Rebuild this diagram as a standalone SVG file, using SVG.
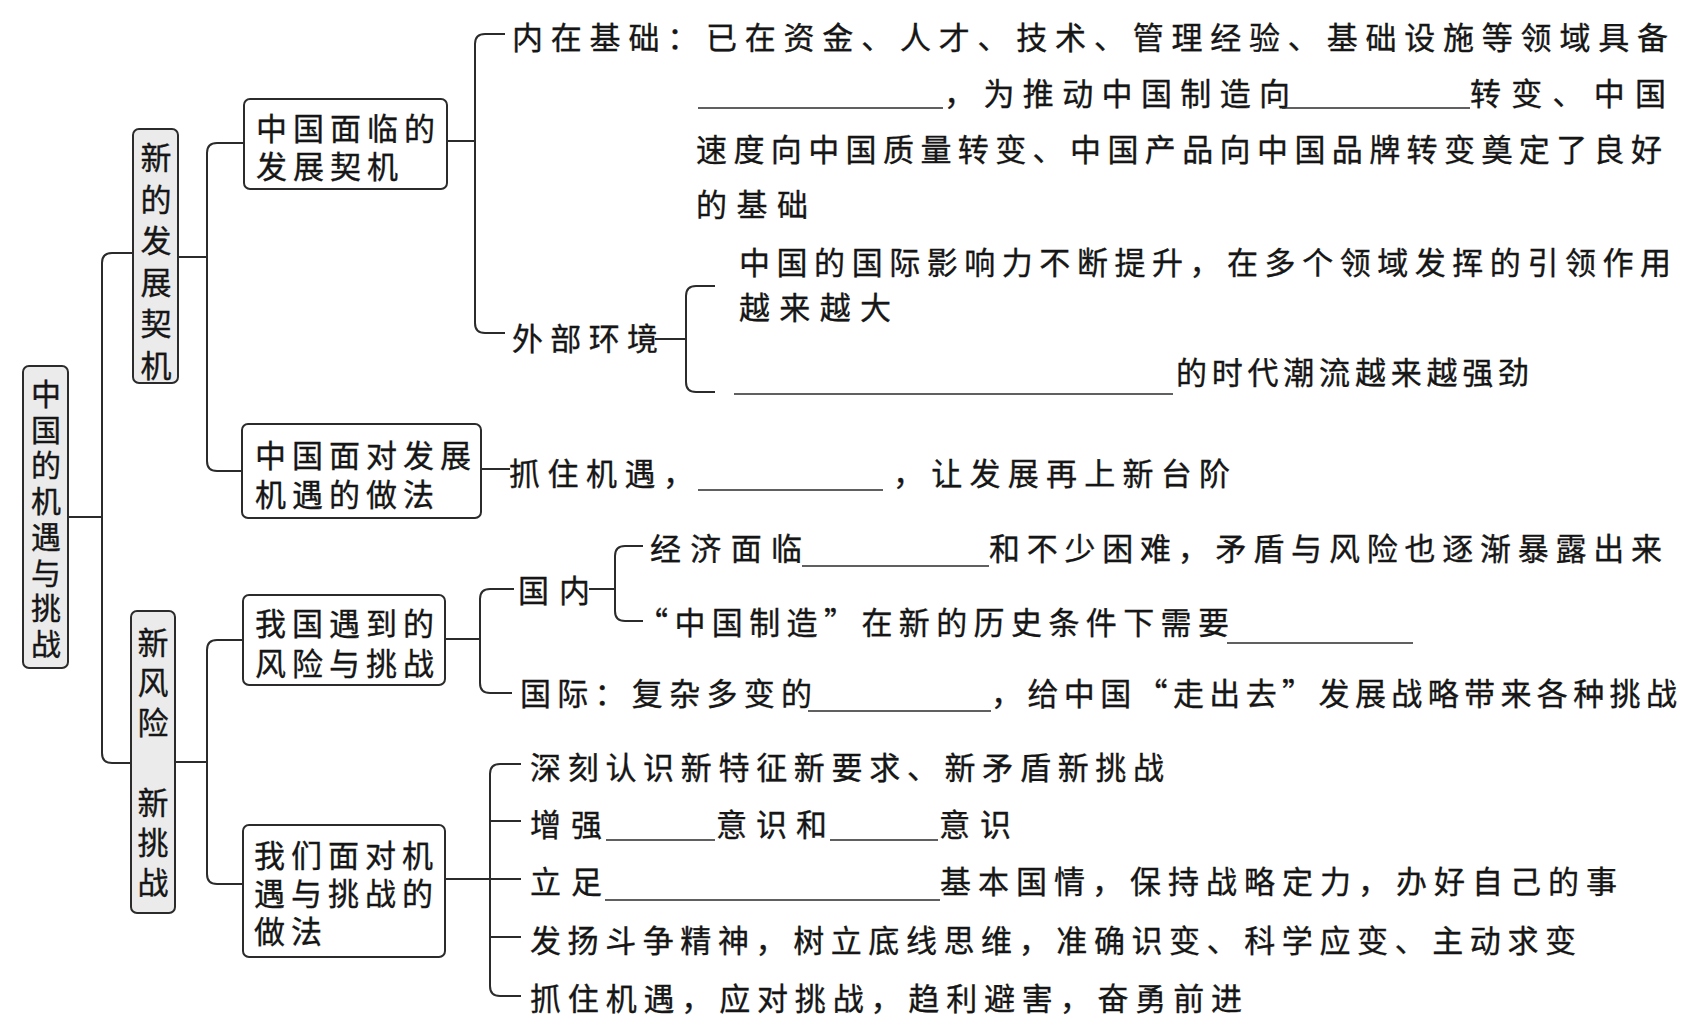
<svg xmlns="http://www.w3.org/2000/svg" width="1685" height="1028" viewBox="0 0 1685 1028">
<style>
  .bg{fill:#ffffff}
  .box{fill:#ffffff;stroke:#2b2b2b;stroke-width:2}
  .vbox{fill:#ebebeb;stroke:#2b2b2b;stroke-width:2}
  .ln{fill:none;stroke:#2b2b2b;stroke-width:2}
  .ul{fill:none;stroke:#2b2b2b;stroke-width:1.6}
  text{font-family:"Noto Sans CJK SC","Noto Sans",sans-serif;fill:#161616;stroke:#161616;stroke-width:0.35px}
  .bt{font-size:31px;letter-spacing:6px}
  .vt{font-size:30px;text-anchor:middle}
  .rt{font-size:31px}
</style>
<rect class="bg" x="0" y="0" width="1685" height="1028"/>

<g id="connectors">
  <path class="ln" d="M68,517 H102"/>
  <path class="ln" d="M133,253 H112 Q102,253 102,263 V753 Q102,763 112,763 H131"/>
  <path class="ln" d="M178,257 H207"/>
  <path class="ln" d="M244,143 H217 Q207,143 207,153 V461 Q207,471 217,471 H242"/>
  <path class="ln" d="M175,762 H207"/>
  <path class="ln" d="M243,640 H217 Q207,640 207,650 V874 Q207,884 217,884 H243"/>
  <path class="ln" d="M447,141 H475"/>
  <path class="ln" d="M505,34 H485 Q475,34 475,44 V323 Q475,333 485,333 H505"/>
  <path class="ln" d="M655,339 H686"/>
  <path class="ln" d="M715,286 H696 Q686,286 686,296 V382 Q686,392 696,392 H715"/>
  <path class="ln" d="M481,469 H510"/>
  <path class="ln" d="M445,639 H480"/>
  <path class="ln" d="M514,589 H490 Q480,589 480,599 V683 Q480,693 490,693 H512"/>
  <path class="ln" d="M589,589 H615"/>
  <path class="ln" d="M643,546 H625 Q615,546 615,556 V611 Q615,621 625,621 H643"/>
  <path class="ln" d="M445,879 H490"/>
  <path class="ln" d="M521,764 H500 Q490,764 490,774 V986 Q490,996 500,996 H521"/>
  <path class="ln" d="M490,821 H521"/>
  <path class="ln" d="M490,937 H521"/>
  <path class="ln" d="M490,879 H521"/>
</g>

<g id="root">
  <rect class="vbox" x="23" y="366" width="45" height="302" rx="6"/>
  <text class="vt"><tspan x="46" y="405">中</tspan><tspan x="46" y="440.7">国</tspan><tspan x="46" y="476.4">的</tspan><tspan x="46" y="512.1">机</tspan><tspan x="46" y="547.8">遇</tspan><tspan x="46" y="583.5">与</tspan><tspan x="46" y="619.2">挑</tspan><tspan x="46" y="654.9">战</tspan></text>
</g>

<g id="new-opportunity">
  <rect class="vbox" x="133" y="129" width="45" height="254" rx="6"/>
  <text class="vt" style="font-size:31px"><tspan x="156" y="169">新</tspan><tspan x="156" y="210.6">的</tspan><tspan x="156" y="252.2">发</tspan><tspan x="156" y="293.8">展</tspan><tspan x="156" y="335.4">契</tspan><tspan x="156" y="377">机</tspan></text>
</g>

<g id="new-risk">
  <rect class="vbox" x="131" y="611" width="44" height="302" rx="6"/>
  <text class="vt" style="font-size:31px"><tspan x="153" y="654">新</tspan><tspan x="153" y="694">风</tspan><tspan x="153" y="734">险</tspan><tspan x="153" y="814">新</tspan><tspan x="153" y="854">挑</tspan><tspan x="153" y="894">战</tspan></text>
</g>

<g id="face-opportunity">
  <rect class="box" x="244" y="99" width="203" height="90" rx="6"/>
  <text class="bt" x="256" y="140">中国面临的</text>
  <text class="bt" x="256" y="178">发展契机</text>
</g>

<g id="seize-opportunity">
  <rect class="box" x="242" y="424" width="239" height="94" rx="6"/>
  <text class="bt" x="255" y="467">中国面对发展</text>
  <text class="bt" x="255" y="506">机遇的做法</text>
</g>

<g id="risks">
  <rect class="box" x="243" y="595" width="202" height="90" rx="6"/>
  <text class="bt" x="255" y="635">我国遇到的</text>
  <text class="bt" x="255" y="675">风险与挑战</text>
</g>

<g id="response">
  <rect class="box" x="243" y="825" width="202" height="132" rx="6"/>
  <text class="bt" x="254" y="867">我们面对机</text>
  <text class="bt" x="254" y="905">遇与挑战的</text>
  <text class="bt" x="254" y="943">做法</text>
</g>

<g id="inner-basis">
  <text class="rt" x="512" y="49" textLength="1156" lengthAdjust="spacing">内在基础：已在资金、人才、技术、管理经验、基础设施等领域具备</text>
  <path class="ul" d="M698,108 H943"/>
  <text class="rt" x="944" y="105" textLength="346" lengthAdjust="spacing">，为推动中国制造向</text>
  <path class="ul" d="M1282,108 H1470"/>
  <text class="rt" x="1470" y="105" textLength="196" lengthAdjust="spacing">转变、中国</text>
  <text class="rt" x="696" y="161" textLength="966" lengthAdjust="spacing">速度向中国质量转变、中国产品向中国品牌转变奠定了良好</text>
  <text class="rt" x="696" y="216" textLength="112" lengthAdjust="spacing">的基础</text>
</g>

<g id="outer-env">
  <text class="rt" x="512" y="350" textLength="146" lengthAdjust="spacing">外部环境</text>
</g>

<g id="outer-1">
  <text class="rt" x="739" y="274" textLength="932" lengthAdjust="spacing">中国的国际影响力不断提升，在多个领域发挥的引领作用</text>
  <text class="rt" x="739" y="319" textLength="152" lengthAdjust="spacing">越来越大</text>
</g>

<g id="outer-2">
  <path class="ul" d="M734,394 H1173"/>
  <text class="rt" x="1176" y="384" textLength="353" lengthAdjust="spacing">的时代潮流越来越强劲</text>
</g>

<g id="seize-text">
  <text class="rt" x="509" y="485" textLength="185" lengthAdjust="spacing">抓住机遇，</text>
  <path class="ul" d="M698,490 H883"/>
  <text class="rt" x="893" y="485" textLength="337" lengthAdjust="spacing">，让发展再上新台阶</text>
</g>

<g id="domestic">
  <text class="rt" x="518" y="602" textLength="72" lengthAdjust="spacing">国内</text>
</g>

<g id="domestic-1">
  <text class="rt" x="650" y="560" textLength="152" lengthAdjust="spacing">经济面临</text>
  <path class="ul" d="M802,566 H989"/>
  <text class="rt" x="989" y="560" textLength="673" lengthAdjust="spacing">和不少困难，矛盾与风险也逐渐暴露出来</text>
</g>

<g id="domestic-2">
  <text class="rt" x="637" y="634" textLength="592" lengthAdjust="spacing">“中国制造”在新的历史条件下需要</text>
  <path class="ul" d="M1227,643 H1413"/>
</g>

<g id="international">
  <text class="rt" x="520" y="705" textLength="292" lengthAdjust="spacing">国际：复杂多变的</text>
  <path class="ul" d="M808,711 H991"/>
  <text class="rt" x="991" y="705" textLength="686" lengthAdjust="spacing">，给中国“走出去”发展战略带来各种挑战</text>
</g>

<g id="response-1">
  <text class="rt" x="530" y="779" textLength="634" lengthAdjust="spacing">深刻认识新特征新要求、新矛盾新挑战</text>
</g>
<g id="response-2">
  <text class="rt" x="530" y="836" textLength="72" lengthAdjust="spacing">增强</text>
  <path class="ul" d="M606,840 H715"/>
  <text class="rt" x="716" y="836" textLength="111" lengthAdjust="spacing">意识和</text>
  <path class="ul" d="M830,840 H938"/>
  <text class="rt" x="939" y="836" textLength="72" lengthAdjust="spacing">意识</text>
</g>
<g id="response-3">
  <text class="rt" x="530" y="893" textLength="72" lengthAdjust="spacing">立足</text>
  <path class="ul" d="M605,900 H940"/>
  <text class="rt" x="940" y="893" textLength="677" lengthAdjust="spacing">基本国情，保持战略定力，办好自己的事</text>
</g>
<g id="response-4">
  <text class="rt" x="530" y="952" textLength="1046" lengthAdjust="spacing">发扬斗争精神，树立底线思维，准确识变、科学应变、主动求变</text>
</g>
<g id="response-5">
  <text class="rt" x="530" y="1010" textLength="712" lengthAdjust="spacing">抓住机遇，应对挑战，趋利避害，奋勇前进</text>
</g>
</svg>
